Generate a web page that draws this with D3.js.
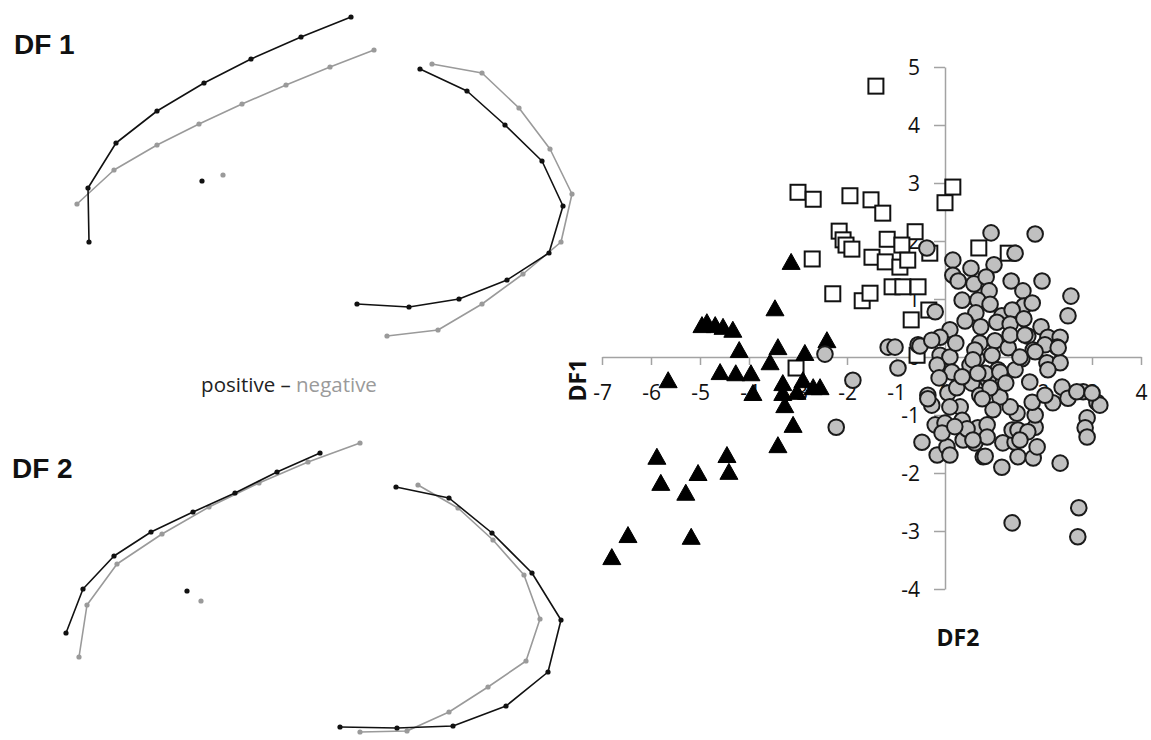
<!DOCTYPE html>
<html>
<head>
<meta charset="utf-8">
<script src="https://cdn.jsdelivr.net/npm/d3@7"></script>
<style>
  html, body { margin: 0; padding: 0; background: #fff; }
  svg { display: block; }
</style>
</head>
<body>
<svg id="fig" width="1151" height="740"></svg>
<script>
// ---------- discriminant scores (DF2 on x, DF1 on y) ----------
const squareScores = [
  [-1.41,4.67],[-3.00,2.84],[-2.69,2.72],[-1.94,2.78],[-1.51,2.71],[-1.27,2.48],[0.16,2.93],[0.00,2.66],
  [-2.16,2.17],[-2.08,2.02],[-2.02,1.93],[-1.90,1.86],[-1.18,2.03],[-0.61,2.16],[-0.88,1.93],[-0.31,1.79],
  [-1.49,1.72],[-1.22,1.64],[-0.92,1.55],[-0.76,1.67],[-2.71,1.69],[-2.29,1.09],[-1.69,0.97],[-1.53,1.10],
  [-1.08,1.21],[-0.86,1.21],[-0.55,1.21],[-0.33,0.81],[-0.69,0.64],[-0.57,0.03],[-3.04,-0.19],[0.69,1.88],
  [1.29,1.79]
];
const triangleScores = [
  [-3.14,1.64],[-3.47,0.84],[-4.96,0.55],[-4.86,0.60],[-4.69,0.55],[-4.53,0.52],[-4.33,0.47],[-4.20,0.12],
  [-3.41,0.17],[-2.86,0.07],[-2.41,0.29],[-3.57,-0.09],[-4.59,-0.26],[-4.27,-0.28],[-3.96,-0.28],[-5.65,-0.40],
  [-3.31,-0.45],[-3.92,-0.62],[-3.31,-0.62],[-3.27,-0.83],[-3.02,-0.60],[-2.90,-0.40],[-2.69,-0.52],[-2.55,-0.52],
  [-3.10,-1.17],[-3.41,-1.52],[-5.88,-1.72],[-4.45,-1.69],[-4.41,-1.98],[-5.04,-2.00],[-5.80,-2.17],[-5.29,-2.34],
  [-6.47,-3.07],[-5.18,-3.10],[-6.80,-3.45]
];
const circleScores = [
  [-2.45,0.05],[-1.88,-0.40],[-2.22,-1.21],[-1.16,0.17],[-1.02,0.17],[-0.96,-0.19],[-0.55,0.21],[-0.37,1.88],
  [-0.20,0.78],[0.16,1.67],[0.10,0.47],[-0.10,0.34],[0.94,2.14],[1.84,2.12],[1.43,1.79],[0.53,1.53],
  [1.00,1.59],[0.16,1.41],[0.27,1.31],[0.59,1.26],[0.84,1.38],[1.35,1.31],[1.98,1.31],[0.90,1.14],
  [1.59,1.14],[2.57,1.05],[0.35,0.98],[0.67,0.98],[0.92,0.91],[1.61,0.88],[1.78,0.93],[0.63,0.76],
  [2.51,0.71],[1.16,0.71],[1.37,0.81],[1.06,0.60],[1.33,0.57],[1.61,0.66],[0.73,0.52],[1.96,0.52],
  [1.69,0.36],[2.10,0.34],[2.35,0.34],[2.29,0.17],[-0.51,0.19],[-0.27,0.29],[0.71,0.24],[1.02,0.28],
  [1.29,0.16],[1.80,0.12],[-0.10,0.03],[0.10,0.00],[0.65,-0.03],[1.57,-0.03],[2.08,-0.10],[-0.16,-0.14],
  [0.14,-0.26],[0.51,-0.14],[1.08,-0.22],[1.43,-0.22],[2.35,-0.10],[-0.12,-0.36],[0.55,-0.45],[0.88,-0.40],
  [1.73,-0.43],[2.39,-0.52],[-0.35,-0.66],[0.71,-0.66],[-0.27,-0.83],[-0.47,-1.47],[-0.20,-1.17],[0.00,-1.14],
  [-0.16,-1.69],[0.04,-1.55],[0.10,-1.69],[0.31,-0.86],[0.06,-0.62],[0.41,-1.26],[0.67,-1.22],[0.86,-1.17],
  [0.37,-1.43],[0.61,-1.48],[0.78,-1.72],[1.16,-1.90],[1.18,-1.48],[1.43,-1.47],[1.37,-1.26],[1.47,-0.97],
  [1.33,-0.86],[1.49,-1.72],[1.80,-1.74],[1.88,-1.55],[1.84,-1.21],[1.84,-1.00],[1.78,-0.78],[1.12,-0.69],
  [0.98,-0.91],[2.20,-0.79],[2.51,-0.71],[2.82,-0.60],[3.10,-0.78],[3.16,-0.83],[2.90,-1.05],[2.86,-1.22],
  [2.90,-1.38],[2.35,-1.83],[2.73,-2.60],[2.71,-3.10],[1.37,-2.86],[2.10,-0.22],[2.04,0.21],[1.33,0.38],
  [0.61,0.12],[0.57,-0.05],[0.96,0.03],[0.82,-0.28],[0.24,-0.53],[0.92,-0.53],[0.76,-0.72],[0.10,-0.86],
  [0.35,-1.09],[-0.06,-1.31],[0.86,-1.38],[1.84,0.09],[2.69,-0.60],[2.04,-0.66],[3.00,-0.62],[1.49,-1.26],
  [1.69,-1.29],[1.53,-1.43],[1.63,0.38],[0.35,-0.34],[0.67,-0.28],[1.12,-0.26],[1.53,0.00],[-0.35,-0.72],
  [0.45,-1.24],[0.57,-1.43],[0.82,-1.71],[2.31,0.16],[0.41,0.62],[0.22,0.24],[1.24,-0.45],[0.20,-1.20]
];
const xTickValues = [-7,-6,-5,-4,-3,-2,-1,0,1,2,3,4];
const yTickValues = [-4,-3,-2,-1,0,1,2,3,4,5];

// ---------- outline landmarks along each DF (positive / negative extremes) ----------
const df1PosUpper = [[351,17],[301,37],[251,59],[204,83],[157,111],[116,143],[88,188],[89,242]];
const df1NegUpper = [[374,50],[330,67],[286,85],[242,104],[199,124],[157,145],[114,170],[77,204]];
const df1PosLower = [[420,69],[467,91],[505,125],[542,161],[563,206],[549,253],[507,280],[459,299],[409,307],[357,304]];
const df1NegLower = [[432,64],[482,73],[519,108],[550,149],[572,194],[561,242],[523,274],[482,304],[438,330],[387,336]];
const df1PosCentre = [202,181];
const df1NegCentre = [223,175];

const df2PosUpper = [[320,53],[277,72],[235,93],[193,112],[151,132],[114,156],[83,189],[66,233]];
const df2NegUpper = [[360,43],[308,62],[259,83],[209,107],[162,134],[117,164],[87,205],[79,257]];
const df2PosLower = [[396,87],[449,98],[492,133],[532,173],[561,220],[548,272],[506,306],[453,326],[397,328],[340,327]];
const df2NegLower = [[418,85],[458,108],[493,140],[524,175],[540,219],[526,261],[488,287],[449,312],[407,331],[360,332]];
const df2PosCentre = [187,191];
const df2NegCentre = [201,201];

const svg = d3.select("#fig");
const FONT = "'Open Sans', 'Liberation Sans', sans-serif";
const AXIS = "#a3a3a3";
const POS = "#111111";
const NEG = "#9a9a9a";

// ---------- outline panels ----------
function drawOutlines(offsetY, parts) {
  const sx = d3.scaleLinear().domain([0, 600]).range([0, 600]);
  const sy = d3.scaleLinear().domain([0, 400]).range([offsetY, offsetY + 400]);
  const g = svg.append("g");
  const line = d3.line().x(d => sx(d[0])).y(d => sy(d[1]));
  // negative first, positive on top
  parts.forEach(p => {
    g.append("path").attr("d", line(p.pts)).attr("fill", "none")
      .attr("stroke", p.color).attr("stroke-width", 1.6).attr("stroke-linejoin", "round");
    g.selectAll(null).data(p.pts).enter().append("circle")
      .attr("cx", d => sx(d[0])).attr("cy", d => sy(d[1]))
      .attr("r", 2.6).attr("fill", p.color);
  });
  return {g, sx, sy};
}

const p1 = drawOutlines(0, [
  {pts: df1NegUpper, color: NEG}, {pts: df1NegLower, color: NEG},
  {pts: df1PosUpper, color: POS}, {pts: df1PosLower, color: POS}
]);
[[df1PosCentre, POS], [df1NegCentre, NEG]].forEach(([c, col]) => {
  p1.g.append("circle").attr("cx", p1.sx(c[0])).attr("cy", p1.sy(c[1])).attr("r", 2.6).attr("fill", col);
});

const p2 = drawOutlines(400, [
  {pts: df2NegUpper, color: NEG}, {pts: df2NegLower, color: NEG},
  {pts: df2PosUpper, color: POS}, {pts: df2PosLower, color: POS}
]);
[[df2PosCentre, POS], [df2NegCentre, NEG]].forEach(([c, col]) => {
  p2.g.append("circle").attr("cx", p2.sx(c[0])).attr("cy", p2.sy(c[1])).attr("r", 2.6).attr("fill", col);
});

svg.append("text").attr("x", 14).attr("y", 54).text("DF 1")
  .attr("font-family", "'Liberation Sans', Arial, sans-serif").attr("font-weight", "bold")
  .attr("font-size", 28).attr("fill", "#111");
svg.append("text").attr("x", 12).attr("y", 478).text("DF 2")
  .attr("font-family", "'Liberation Sans', Arial, sans-serif").attr("font-weight", "bold")
  .attr("font-size", 28).attr("fill", "#111");

const key = svg.append("text").attr("x", 289).attr("y", 392).attr("text-anchor", "middle")
  .attr("font-family", FONT).attr("font-size", 20.5);
key.append("tspan").attr("fill", "#222").text("positive \u2013 ");
key.append("tspan").attr("fill", NEG).text("negative");

// ---------- scatter of discriminant scores ----------
const x = d3.scaleLinear().domain([-7, 4]).range([602, 1141]);
const y = d3.scaleLinear().domain([-4, 5]).range([589, 67]);

const xAxis = svg.append("g").attr("transform", `translate(0,${y(0)})`)
  .call(d3.axisBottom(x).tickValues(xTickValues).tickSize(8).tickSizeOuter(0).tickFormat(d3.format("d")));
const yAxis = svg.append("g").attr("transform", `translate(${x(0)},0)`)
  .call(d3.axisLeft(y).tickValues(yTickValues).tickSize(11).tickSizeOuter(0).tickFormat(d3.format("d")));

[xAxis, yAxis].forEach(a => {
  a.select(".domain").attr("stroke", AXIS).attr("stroke-width", 1.5);
  a.selectAll(".tick line").attr("stroke", AXIS).attr("stroke-width", 1.5);
  a.selectAll(".tick text").attr("fill", "#111").attr("font-family", FONT).attr("font-size", 21);
});
xAxis.selectAll(".tick text").attr("y", 43).attr("dy", 0);
yAxis.selectAll(".tick text").attr("x", -25).attr("dy", "0.36em");
// minus signs as plain hyphens
svg.selectAll(".tick text").text(function () { return d3.select(this).text().replace("\u2212", "-"); });

svg.append("text").attr("transform", `translate(586,${y(-0.4)}) rotate(-90)`)
  .attr("text-anchor", "middle").attr("font-family", FONT).attr("font-weight", "bold")
  .attr("font-size", 23).attr("fill", "#111").text("DF1");
svg.append("text").attr("x", 958).attr("y", 646).attr("text-anchor", "middle")
  .attr("font-family", FONT).attr("font-weight", "bold")
  .attr("font-size", 23).attr("fill", "#111").text("DF2");

const marks = svg.append("g");
marks.selectAll(".sq").data(squareScores).enter().append("rect").attr("class", "sq")
  .attr("x", d => x(d[0]) - 7.5).attr("y", d => y(d[1]) - 7.5)
  .attr("width", 15).attr("height", 15)
  .attr("fill", "#fff").attr("stroke", "#111").attr("stroke-width", 2);

const tri = "M0,-8.5L9,7.5L-9,7.5Z";
marks.selectAll(".tri").data(triangleScores).enter().append("path").attr("class", "tri")
  .attr("transform", d => `translate(${x(d[0])},${y(d[1])})`)
  .attr("d", tri).attr("fill", "#000").attr("stroke", "#000").attr("stroke-width", 1);

marks.selectAll(".ci").data(circleScores).enter().append("circle").attr("class", "ci")
  .attr("cx", d => x(d[0])).attr("cy", d => y(d[1])).attr("r", 7.8)
  .attr("fill", "#c0c0c0").attr("stroke", "#1a1a1a").attr("stroke-width", 2);
</script>
</body>
</html>
